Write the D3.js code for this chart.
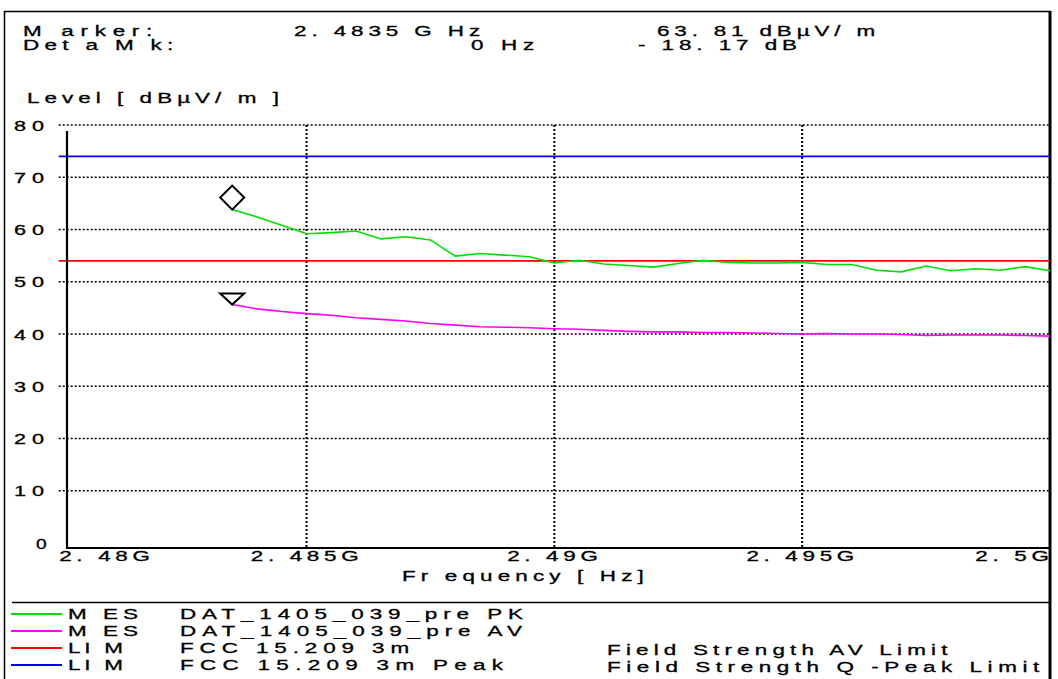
<!DOCTYPE html>
<html>
<head>
<meta charset="utf-8">
<script src="https://cdn.jsdelivr.net/npm/d3@7"></script>
<style>
  html, body { margin: 0; padding: 0; background: #fff; }
  svg { display: block; }
  text { font-family: "Liberation Sans", Arial, sans-serif; font-size: 14.5px; fill: #000; stroke: #000; stroke-width: 0.3px; }
</style>
</head>
<body>
<svg width="1058" height="679"></svg>
<script>
// frequencies in GHz, levels in dBuV/m
const freqs = [2.4835, 2.484, 2.4845, 2.485, 2.4855, 2.486, 2.4865, 2.487, 2.4875, 2.488,
  2.4885, 2.489, 2.4895, 2.49, 2.4905, 2.491, 2.4915, 2.492, 2.4925, 2.493,
  2.4935, 2.494, 2.4945, 2.495, 2.4955, 2.496, 2.4965, 2.497, 2.4975, 2.498,
  2.4985, 2.499, 2.4995, 2.5];
const pkLevels = [63.81, 62.4, 60.8, 59.2, 59.4, 59.7, 58.2, 58.6, 58.0, 54.9,
  55.4, 55.1, 54.8, 53.6, 54.1, 53.4, 53.1, 52.8, 53.5, 54.1,
  53.7, 53.6, 53.6, 53.7, 53.3, 53.3, 52.2, 51.9, 53.0, 52.1,
  52.5, 52.2, 52.9, 52.1];
const avLevels = [45.64, 44.8, 44.3, 43.9, 43.6, 43.1, 42.8, 42.5, 42.0, 41.7,
  41.4, 41.3, 41.2, 41.0, 40.9, 40.7, 40.5, 40.4, 40.4, 40.3,
  40.3, 40.2, 40.1, 40.0, 40.1, 40.0, 40.0, 39.9, 39.7, 39.8,
  39.8, 39.8, 39.7, 39.6];
const limitValues = [54, 74];
const limitColors = ['#ff0000', '#0000ff'];
const yTicks = [0, 10, 20, 30, 40, 50, 60, 70, 80];
const xTicks = [2.48, 2.485, 2.49, 2.495, 2.5];
const markerFreq = 2.4835;
const markerLevel = 63.81;

const legendColors = ['#00e000', '#ff00ff', '#ff0000', '#0000ff'];
const legendTypes = ['M ES', 'M ES', 'LI M', 'LI M'];
const legendNames = ['DAT_1405_039_pre  PK', 'DAT_1405_039_pre  AV', 'FCC  15.209  3m', 'FCC  15.209  3m  Peak'];
const legendNotes = ['', '', 'Field  Strength  AV  Limit', 'Field  Strength  Q -Peak  Limit'];

const svg = d3.select('svg');
const S = 1.55; // horizontal stretch of the instrument font

const x = d3.scaleLinear().domain([2.48, 2.5]).range([58.7, 1050]);
const y = d3.scaleLinear().domain([0, 80]).range([543, 125]);

function stretch(sel) {
  sel.each(function () {
    const x0 = +this.getAttribute('x') || 0;
    d3.select(this).attr('transform', `translate(${x0 * (1 - S)},0) scale(${S},1)`);
  });
}

// squeeze/stretch a text element so its box covers left..right on the page
function mapTo(el, left, right) {
  el.removeAttribute('transform');
  const tx = el.getCTM().e;
  const r = el.getBoundingClientRect();
  const s = (right - left) / r.width;
  const a = left - tx - s * (r.left - tx);
  el.setAttribute('transform', `translate(${a},0) scale(${s},1)`);
}

// place text so that it spans x0..x1, keeping the stretch fixed
function fit(str, x0, x1, yb) {
  const t = svg.append('text').attr('x', x0).attr('y', yb).text(str);
  const w0 = t.node().getComputedTextLength();
  const n = str.length;
  const ls = ((x1 - x0) / S - w0) / Math.max(1, n - 1);
  t.attr('letter-spacing', ls);
  stretch(t);
  return t;
}

// frame
svg.append('line').attr('x1', 4).attr('x2', 1051).attr('y1', 11.5).attr('y2', 11.5)
  .attr('stroke', '#000').attr('stroke-width', 1.5);
svg.append('line').attr('x1', 4.5).attr('x2', 4.5).attr('y1', 11).attr('y2', 679)
  .attr('stroke', '#000').attr('stroke-width', 1.5);
svg.append('line').attr('x1', 1050).attr('x2', 1050).attr('y1', 11).attr('y2', 679)
  .attr('stroke', '#000').attr('stroke-width', 3);
svg.append('line').attr('x1', 12).attr('x2', 1050).attr('y1', 602.5).attr('y2', 602.5)
  .attr('stroke', '#000').attr('stroke-width', 1.5);

// header
fit('M  arker:', 23, 159, 36);
fit('Det a  M  k:', 23, 184, 50);
fit('2. 4835  G  Hz', 294, 490, 36);
fit('0  Hz', 471, 540, 50);
fit('63. 81  dBµV/ m', 657, 880, 36);
fit('- 18. 17  dB', 638, 802, 50);
fit('Level [ dBµV/ m ]', 27, 279, 103);

// grid
svg.append('g').selectAll('line').data(yTicks.filter(d => d > 0)).join('line')
  .attr('x1', x(2.48)).attr('x2', x(2.5))
  .attr('y1', d => y(d)).attr('y2', d => y(d))
  .attr('stroke', '#000').attr('stroke-width', 1.4).attr('stroke-dasharray', '2,2');
svg.append('g').selectAll('line').data(xTicks.slice(1, -1)).join('line')
  .attr('x1', d => x(d)).attr('x2', d => x(d))
  .attr('y1', y(80)).attr('y2', 548)
  .attr('stroke', '#000').attr('stroke-width', 2).attr('stroke-dasharray', '2,2');

// limit lines
svg.append('g').selectAll('line').data(limitValues).join('line')
  .attr('x1', x(2.48)).attr('x2', x(2.5))
  .attr('y1', d => y(d)).attr('y2', d => y(d))
  .attr('stroke', (d, i) => limitColors[i]).attr('stroke-width', 1.8);

// axes lines
svg.append('line').attr('x1', 67).attr('x2', 67).attr('y1', 131).attr('y2', 549)
  .attr('stroke', '#000').attr('stroke-width', 2.2);
svg.append('line').attr('x1', 66).attr('x2', 1050).attr('y1', 548).attr('y2', 548)
  .attr('stroke', '#000').attr('stroke-width', 2.2);

// tick labels
const yAxis = svg.append('g').attr('transform', `translate(${x(2.48)},0)`)
  .call(d3.axisLeft(y).tickValues(yTicks).tickSize(0).tickPadding(10).tickFormat(d3.format('d')));
yAxis.select('.domain').remove();
yAxis.selectAll('text').attr('dy', '0.36em').attr('letter-spacing', 4)
  .style('font-size', '14.5px').style('font-family', '"Liberation Sans", Arial, sans-serif')
  .each(function (d) {
    if (d < 10) mapTo(this, 36, 52);
    else mapTo(this, 14, 50);
  });

const xAxis = svg.append('g').attr('transform', 'translate(0,548)')
  .call(d3.axisBottom(x).tickValues(xTicks).tickSize(0).tickPadding(3)
    .tickFormat(d => String(d).replace('.', '. ') + 'G'));
xAxis.select('.domain').remove();
xAxis.selectAll('text').attr('letter-spacing', 3)
  .style('font-size', '14.5px').style('font-family', '"Liberation Sans", Arial, sans-serif')
  .attr('text-anchor', (d, i) => i === 0 ? 'start' : (i === xTicks.length - 1 ? 'end' : 'middle'))
  .attr('x', (d, i) => i === xTicks.length - 1 ? 3 : 0)
  .call(stretch);

fit('Fr equency  [ Hz]', 402, 649, 581);

// traces
const line = d3.line().x(d => x(d[0])).y(d => y(d[1]));
svg.append('path').datum(d3.zip(freqs, avLevels))
  .attr('d', line).attr('fill', 'none').attr('stroke', '#ff00ff').attr('stroke-width', 1.6);
svg.append('path').datum(d3.zip(freqs, pkLevels))
  .attr('d', line).attr('fill', 'none').attr('stroke', '#00e000').attr('stroke-width', 1.6);

// markers
const mx = x(markerFreq);
svg.append('path')
  .attr('d', d3.symbol(d3.symbolSquare, 290)())
  .attr('transform', `translate(${mx},${y(markerLevel) - 12}) rotate(45)`)
  .attr('fill', 'none').attr('stroke', '#000').attr('stroke-width', 2);
const tri = [[-12, -11], [12, -11], [0, 0]];
svg.append('path')
  .attr('d', d3.line()(tri) + 'Z')
  .attr('transform', `translate(${mx},${y(avLevels[0])})`)
  .attr('fill', 'none').attr('stroke', '#000').attr('stroke-width', 2);

// legend
const rowY = d3.scaleLinear().domain([0, 3]).range([614, 665]);
legendColors.forEach((c, i) => {
  svg.append('line').attr('x1', 11).attr('x2', 62)
    .attr('y1', rowY(i)).attr('y2', rowY(i))
    .attr('stroke', c).attr('stroke-width', 1.8);
});
const typeEnds = [138, 138, 123, 123];
const nameEnds = [529, 528, 421, 522];
const noteEnds = [0, 0, 963, 1056];
legendTypes.forEach((t, i) => fit(t, 68, typeEnds[i], rowY(i) + 5.5));
legendNames.forEach((t, i) => fit(t, 180, nameEnds[i], rowY(i) + 5.5));
legendNotes.forEach((t, i) => { if (t) fit(t, 607, noteEnds[i], rowY(i) + 7); });
</script>
</body>
</html>
